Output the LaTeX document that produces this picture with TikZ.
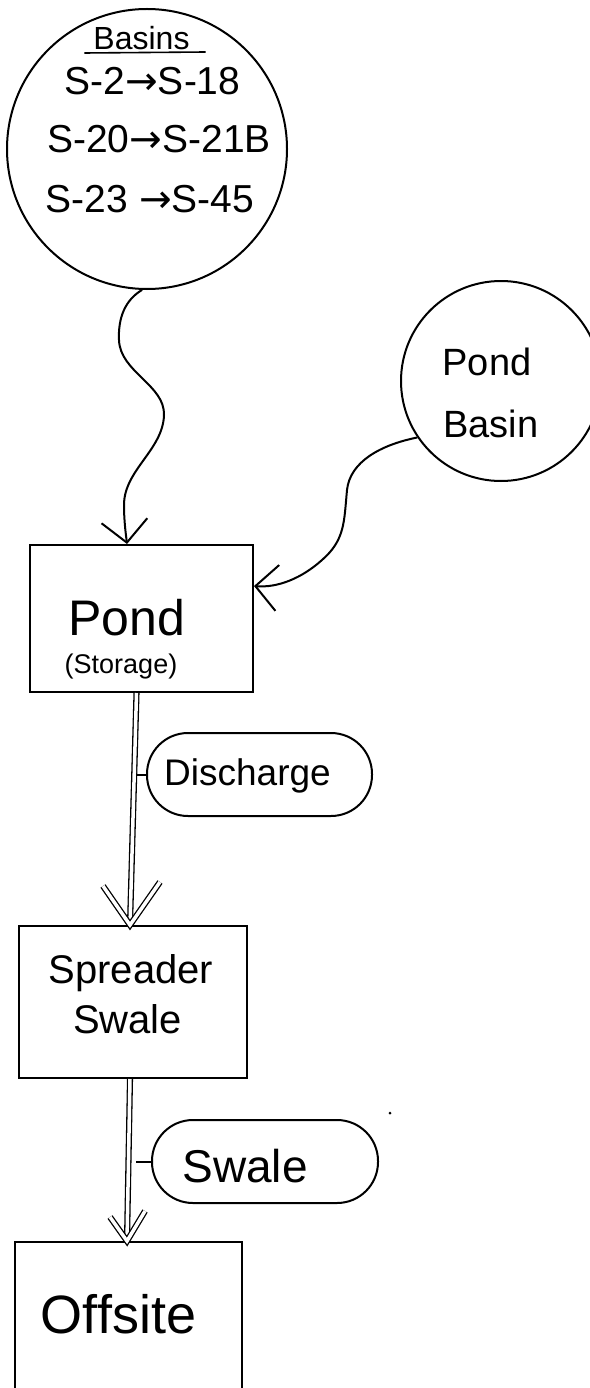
\documentclass[tikz,border=0pt]{standalone}
\usepackage{fontspec}
\setmainfont{Liberation Sans}
\newfontfamily\arrowfont{DejaVu Sans}
\newcommand{\myarr}{{\arrowfont →}}
\usetikzlibrary{arrows.meta,calc}
\begin{document}
\begin{tikzpicture}[x=1pt,y=-1pt,line width=2pt,
  txt/.style={inner sep=0pt,anchor=base},
  boxnode/.style={draw,rectangle,inner sep=0pt},
  ringnode/.style={draw,circle,inner sep=0pt},
  pill/.style={draw,rectangle,rounded corners=41pt,inner sep=0pt,minimum height=83pt},
  flow/.style={-{Straight Barb[length=22pt,width=46pt]}},
  dbl/.style={double,double distance=3.5pt,line width=1.3pt,line join=miter}]
\fill[white] (0,0) rectangle (589,1388);
\useasboundingbox (0,0) rectangle (589,1388);

% basins circle
\node[ringnode,minimum size=280pt] (basins) at (147,149) {};
\node[txt,font=\fontsize{32}{32}\selectfont] (basinsT) at (141.5,50) {Basins};
\draw[line width=1.6pt] ($(basinsT.base west)+(-8,3)$) -- ($(basinsT.base east)+(15,2)$);
\node[txt,font=\fontsize{39}{39}\selectfont] (l1) at (152.5,95) {S-2\myarr S-18};
\node[txt,font=\fontsize{39}{39}\selectfont] (l2) at (159,153) {S-20\myarr S-21B};
\node[txt,font=\fontsize{39}{39}\selectfont] (l3) at (150,213) {S-23 \myarr S-45};

% pond basin circle
\node[ringnode,minimum size=200pt] (pbasin) at (501,381) {};
\node[txt,font=\fontsize{38}{38}\selectfont] (pbT1) at (487,375) {Pond};
\node[txt,font=\fontsize{38}{38}\selectfont] (pbT2) at (491,437) {Basin};

% pond box
\node[boxnode,minimum width=223pt,minimum height=147pt] (pond) at (141.5,618.5) {};
\node[txt,font=\fontsize{50}{50}\selectfont] (pondT) at (127,635) {Pond};
\node[txt,font=\fontsize{27}{27}\selectfont] (pondS) at (121,673) {(Storage)};

% discharge label
\node[pill,minimum width=225pt] (discharge) at (259.5,774.5) {};
\node[txt,font=\fontsize{37}{37}\selectfont] (dischT) at (247.5,785) {Discharge};

% spreader swale box
\node[boxnode,minimum width=228pt,minimum height=152pt] (spread) at (133,1002) {};
\node[txt,font=\fontsize{40}{40}\selectfont] (spT1) at (131,983) {Spreader};
\node[txt,font=\fontsize{40}{40}\selectfont] (spT2) at (127.5,1033) {Swale};

% swale label
\node[pill,minimum width=226pt] (swalel) at (265,1161.5) {};
\node[txt,font=\fontsize{46}{46}\selectfont] (swT) at (245,1182) {Swale};

% offsite box
\node[boxnode,minimum width=227pt,minimum height=178pt] (offsite) at (128.5,1331) {};
\node[txt,font=\fontsize{54}{54}\selectfont] (offT) at (118.5,1333) {Offsite};

% coordinates on edges
\coordinate (pondtop) at ($(pond.north)+(-14.5,0)$);
\coordinate (pondin) at ($(pond.north east)+(0,42)$);
\coordinate (d1s) at ($(pond.south)+(-5,0)$);
\coordinate (d1e) at ($(spread.north)+(-3,0)$);
\coordinate (d2s) at ($(spread.south)+(-3,0)$);
\coordinate (d2e) at ($(offsite.north)+(-1.5,0)$);

% wavy connectors
\draw[flow] (basins.-92) .. controls (125,300) and (118,318) .. (119,340)
  .. controls (120,372) and (165,385) .. (164,415)
  .. controls (163,450) and (124,470) .. (124,505)
  .. controls (124,522) and (126,535) .. (pondtop);
\draw[flow] (pbasin.214) .. controls (380,445) and (350,462) .. (347,490)
  .. controls (344,522) and (345,540) .. (322,560)
  .. controls (302,578) and (278,588) .. (pondin);

% double connectors
\draw[dbl] (d1s) -- (d1e);
\draw[dbl] ($(d1e)+(-27,-39)$) -- (d1e) -- ($(d1e)+(30,-43)$);
\draw (discharge.west) -- ++(-10,0);

\draw[dbl] (d2s) -- (d2e);
\draw[dbl] ($(d2e)+(-17,-24)$) -- (d2e) -- ($(d2e)+(18,-30)$);
\draw (swalel.west) -- ++(-15,0);

\fill (390,1113) circle (1.5pt);
\end{tikzpicture}
\end{document}
